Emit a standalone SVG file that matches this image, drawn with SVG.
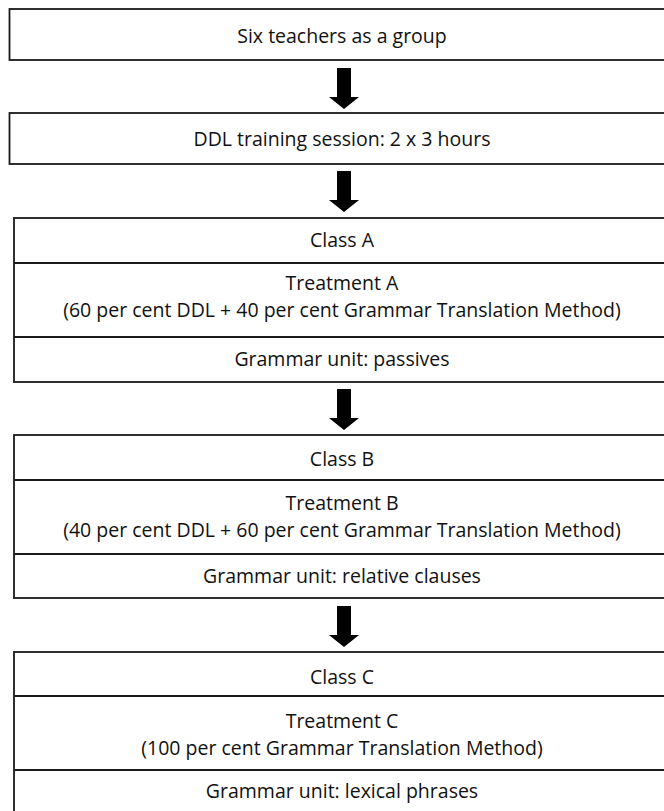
<svg xmlns="http://www.w3.org/2000/svg" width="664" height="811" viewBox="0 0 664 811">
<style>
.box{fill:#fff;stroke:#1a1a1a;stroke-width:1.8}
.div{stroke:#1a1a1a;stroke-width:1.8}
.t{font-family:"Open Sans","Noto Sans",sans-serif;font-size:19.5px;fill:#111;text-anchor:middle}
.arr{fill:#000}
</style>
<defs>
<path id="a" d="M-7,0 H7 V29 H15 L0,41 L-15,29 H-7 Z"/>
</defs>
<rect width="664" height="811" fill="#fff"/>
<g id="connectors">
<use href="#a" class="arr" x="344" y="68"/>
<use href="#a" class="arr" x="344" y="171"/>
<use href="#a" class="arr" x="344" y="389"/>
<use href="#a" class="arr" x="344" y="606"/>
</g>
<g id="n1">
<rect class="box" x="9.5" y="9" width="680" height="51"/>
<text class="t" x="342" y="43">Six teachers as a group</text>
</g>
<g id="n2">
<rect class="box" x="9.5" y="113" width="680" height="51"/>
<text class="t" x="342" y="146">DDL training session: 2 x 3 hours</text>
</g>
<g id="n3">
<rect class="box" x="14" y="218" width="680" height="164"/>
<line class="div" x1="14" y1="263" x2="664" y2="263"/>
<line class="div" x1="14" y1="337" x2="664" y2="337"/>
<text class="t" x="342" y="247">Class A</text>
<text class="t" x="342" y="290">Treatment A</text>
<text class="t" x="342" y="317">(60 per cent DDL + 40 per cent Grammar Translation Method)</text>
<text class="t" x="342" y="366">Grammar unit: passives</text>
</g>
<g id="n4">
<rect class="box" x="14" y="435" width="680" height="163"/>
<line class="div" x1="14" y1="480" x2="664" y2="480"/>
<line class="div" x1="14" y1="554" x2="664" y2="554"/>
<text class="t" x="342" y="466">Class B</text>
<text class="t" x="342" y="510">Treatment B</text>
<text class="t" x="342" y="537">(40 per cent DDL + 60 per cent Grammar Translation Method)</text>
<text class="t" x="342" y="583">Grammar unit: relative clauses</text>
</g>
<g id="n5">
<rect class="box" x="14" y="652" width="680" height="180"/>
<line class="div" x1="14" y1="696" x2="664" y2="696"/>
<line class="div" x1="14" y1="770" x2="664" y2="770"/>
<text class="t" x="342" y="684">Class C</text>
<text class="t" x="342" y="728">Treatment C</text>
<text class="t" x="342" y="755">(100 per cent Grammar Translation Method)</text>
<text class="t" x="342" y="798">Grammar unit: lexical phrases</text>
</g>
</svg>
